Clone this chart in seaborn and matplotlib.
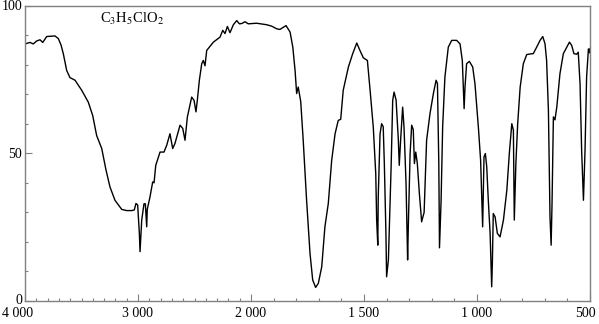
import numpy as np
import pandas as pd
import matplotlib
matplotlib.use("Agg")
import matplotlib.pyplot as plt
import matplotlib.transforms as mtransforms
import seaborn as sns
from matplotlib.ticker import FixedLocator, FixedFormatter

# ---- data (wavenumber cm-1, transmittance %) ----
wavenumber = [
    4000, 3956, 3926, 3897, 3867, 3843, 3808, 3735, 3705, 3681, 3661, 3631, 3602,
    3557, 3498, 3440, 3401, 3366, 3321, 3283, 3248, 3204, 3144, 3100, 3056, 3033,
    3018, 3003, 2988, 2982, 2967, 2947, 2935, 2923, 2918, 2894, 2870, 2858, 2843,
    2805, 2770, 2746, 2717, 2693, 2673, 2628, 2604, 2584, 2563, 2525, 2504, 2487,
    2475, 2457, 2436, 2422, 2407, 2392, 2333, 2274, 2250, 2230, 2209, 2186, 2156,
    2126, 2103, 2082, 2053, 2024, 1975, 1931, 1908, 1886, 1872, 1845, 1827, 1815,
    1805, 1798, 1791, 1780, 1769, 1754, 1739, 1727, 1714, 1702, 1687, 1673, 1658,
    1643, 1628, 1614, 1603, 1592, 1569, 1550, 1532, 1518, 1503, 1485, 1473, 1459,
    1448, 1444, 1439, 1437, 1429, 1422, 1415, 1410, 1403, 1400, 1392, 1380, 1373,
    1367, 1358, 1348, 1344, 1338, 1329, 1323, 1314, 1307, 1304, 1296, 1289, 1282,
    1277, 1271, 1264, 1255, 1245, 1234, 1223, 1208, 1193, 1181, 1175, 1169, 1166,
    1159, 1152, 1142, 1127, 1112, 1090, 1075, 1065, 1057, 1053, 1046, 1034, 1019,
    1009, 994, 984, 975, 969, 963, 957, 950, 942, 935, 932, 928, 920, 910, 898,
    883, 868, 857, 846, 839, 835, 828, 820, 809, 795, 780, 765, 751, 736, 721,
    709, 699, 692, 684, 677, 672, 668, 662, 655, 647, 633, 618, 603, 591, 581,
    571, 559, 552, 544, 537, 529, 522, 515, 507, 502, 500,
]
transmittance = [
    87.0, 87.5, 87.0, 88.0, 88.4, 87.5, 89.5, 89.7, 88.8, 86.6, 83.7, 78.0, 75.6,
    74.7, 71.3, 67.3, 62.8, 56.0, 51.6, 44.3, 38.6, 34.1, 31.0, 30.6, 30.6, 30.8,
    33.0, 32.5, 22.9, 16.7, 27.4, 32.9, 32.9, 25.1, 31.0, 35.2, 40.3, 40.0, 45.9,
    50.4, 50.4, 52.7, 56.6, 51.6, 53.3, 59.5, 58.4, 54.4, 62.3, 69.0, 67.9, 64.0,
    67.9, 74.7, 80.3, 81.4, 79.6, 84.8, 87.6, 89.3, 91.6, 90.5, 92.9, 90.8, 93.5,
    94.9, 93.8, 93.9, 94.5, 93.8, 94.0, 93.5, 93.0, 92.1, 91.9, 93.2, 91.0, 85.9,
    78.0, 70.2, 72.4, 67.5, 54.4, 34.1, 16.2, 7.1, 4.6, 6.0, 11.6, 25.1, 33.0,
    47.6, 56.6, 61.1, 61.5, 71.3, 79.2, 83.7, 87.3, 84.8, 82.3, 81.4, 71.3, 58.9,
    43.1, 27.4, 18.9, 35.2, 56.6, 60.0, 59.0, 46.5, 23.0, 8.2, 14.0, 45.4, 67.9,
    70.7, 68.0, 54.4, 45.9, 54.4, 65.6, 58.9, 39.8, 13.9, 25.0, 49.9, 59.5, 58.0,
    46.5, 50.4, 46.5, 36.4, 26.8, 30.0, 54.4, 63.4, 70.2, 74.7, 73.6, 46.5, 18.0,
    33.7, 58.9, 75.8, 85.9, 88.2, 88.2, 87.0, 81.4, 65.1, 72.5, 80.3, 81.1, 79.2,
    73.5, 58.9, 47.6, 25.1, 48.8, 49.9, 45.5, 34.1, 22.9, 4.8, 13.0, 29.6, 28.5, 22.9, 21.7,
    27.4, 37.5, 49.9, 60.0, 57.8, 27.4, 46.5, 60.0, 72.4, 80.3, 83.4, 83.6, 83.7, 85.9, 88.2,
    89.5, 87.0, 81.4, 64.5, 28.5, 18.9, 33.0, 62.3, 61.3, 65.6, 76.9, 83.7, 85.9, 87.6, 86.5,
    83.7, 83.5, 84.2, 73.5, 51.0, 34.1, 51.0, 75.8, 85.3, 84.0, 85.5,
]
major_ticks = [4000, 3000, 2000, 1500, 1000, 500]
major_labels = ["4 000", "3 000", "2 000", "1 500", "1 000", "500"]
y_ticks = [0, 50, 100]
formula = "C$_3$H$_5$ClO$_2$"

df = pd.DataFrame({"wn": wavenumber, "T": transmittance})

sns.set_theme(style="white")
plt.rcParams["font.family"] = ["Liberation Serif", "DejaVu Serif"]
plt.rcParams["mathtext.fontset"] = "stix"

fig = plt.figure(figsize=(5.99, 3.24), dpi=100)
ax = fig.add_axes([25 / 599, 23 / 324, 565 / 599, 295.5 / 324])

# half-scale above 2000 cm-1 (usual IR chart layout)
def fwd(w):
    w = np.asarray(w, dtype=float)
    return np.where(w > 2000, 2000 + (w - 2000) / 2, w)

def inv(u):
    u = np.asarray(u, dtype=float)
    return np.where(u > 2000, 2000 + (u - 2000) * 2, u)

ax.set_xscale("function", functions=(fwd, inv))

sns.lineplot(data=df, x="wn", y="T", ax=ax, color="black", linewidth=1.0,
             sort=False, estimator=None)

ax.set_xlim(4000, 500)
ax.set_ylim(0, 100)
ax.set_xlabel("")
ax.set_ylabel("")

ax.xaxis.set_major_locator(FixedLocator(major_ticks))
ax.xaxis.set_major_formatter(FixedFormatter(major_labels))
minor_x = [w for w in range(500, 4001, 100) if w not in major_ticks]
ax.xaxis.set_minor_locator(FixedLocator(minor_x))
ax.yaxis.set_major_locator(FixedLocator(y_ticks))
ax.yaxis.set_minor_locator(FixedLocator([v for v in range(0, 101, 10) if v not in y_ticks]))

ax.tick_params(axis="both", which="major", direction="in", length=5, width=0.8,
               color="#808080", labelsize=10, labelcolor="black")
ax.tick_params(axis="both", which="minor", direction="in", length=2.5, width=0.8,
               color="#808080")
ax.tick_params(axis="x", which="both", bottom=True, top=False, pad=4.5)
ax.tick_params(axis="y", which="both", left=True, right=False, pad=2)

for s in ax.spines.values():
    s.set_color("#808080")
    s.set_linewidth(1.0)

# nudge the outermost labels, as in the reference
fig.canvas.draw()
pt = fig.dpi_scale_trans
xlabels = ax.get_xticklabels()
xlabels[0].set_transform(xlabels[0].get_transform() +
                         mtransforms.ScaledTranslation(-7 / 100, 0, pt))
xlabels[-1].set_transform(xlabels[-1].get_transform() +
                          mtransforms.ScaledTranslation(-5 / 100, 0, pt))
ylabels = ax.get_yticklabels()
ylabels[0].set_transform(ylabels[0].get_transform() +
                         mtransforms.ScaledTranslation(0, 2.5 / 100, pt))

ax.text(0.133, 0.955, formula, transform=ax.transAxes, ha="left", va="center",
        fontsize=10.5, color="black")

fig.savefig("out.png", dpi=100)
